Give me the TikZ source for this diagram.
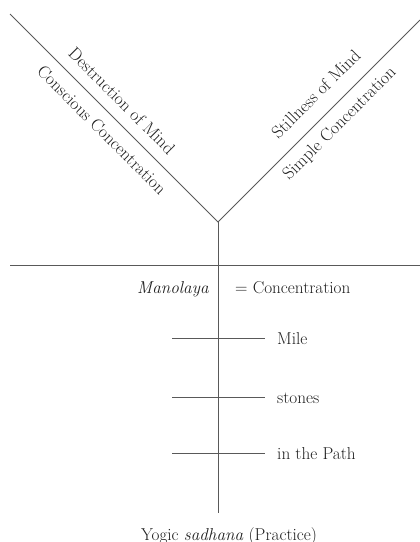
\documentclass[tikz,border=0pt]{standalone}
\begin{document}
\begin{tikzpicture}[x=1pt,y=-1pt,
  ln/.style={draw=black!65, line width=0.8pt},
  lbl/.style={font=\fontsize{17.2}{19}\selectfont, text=black!88, inner sep=0pt},
  dlbl/.style={font=\fontsize{17.5}{19}\selectfont, text=black!88, inner sep=0pt}]
\path[use as bounding box] (0,0) rectangle (420,542);
% frame lines
\coordinate (L) at (10,14);
\coordinate (J) at (218,222);
\coordinate (R) at (420,20);
\coordinate (B) at (218,513);
\coordinate (HL) at (10,265);
\coordinate (HR) at (420,265);
\draw[ln] (L) -- (J) -- (R);
\draw[ln] (J) -- (B);
\draw[ln] (HL) -- (HR);
% short cross lines
\coordinate (m1) at (172,338); \coordinate (m2) at (265,338);
\coordinate (s1) at (172,397); \coordinate (s2) at (265,397);
\coordinate (p1) at (172,453); \coordinate (p2) at (265,453);
\draw[ln] (m1) -- (m2);
\draw[ln] (s1) -- (s2);
\draw[ln] (p1) -- (p2);
% diagonal labels
\node[dlbl, rotate=-45] (dm) at (122,101) {Destruction of Mind};
\node[dlbl, rotate=-45] (cc) at (102,130) {Conscious Concentration};
\node[dlbl, rotate=45] (sm) at (316,94) {Stillness of Mind};
\node[dlbl, rotate=45] (sc) at (340,124) {Simple Concentration};
% labels
\node[lbl, anchor=base west] (man) at (137,293) {\itshape Manolaya};
\node[lbl, anchor=base west] (con) at (235,293) {= Concentration};
\node[lbl, anchor=base west] (mile) at (277,344) {Mile};
\node[lbl, anchor=base west] (sto) at (277,403) {stones};
\node[lbl, anchor=base west] (path) at (277,459) {in the Path};
\node[lbl, anchor=base] (yog) at (229,540) {Yogic \textit{sadhana} (Practice)};
\end{tikzpicture}
\end{document}
